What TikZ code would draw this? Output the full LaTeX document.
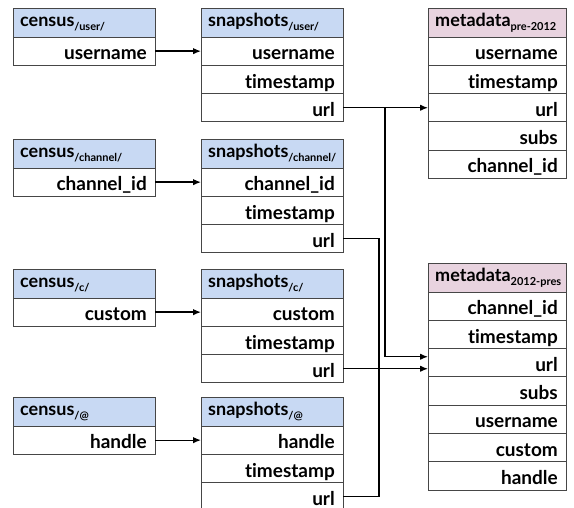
\documentclass[tikz,border=0pt]{standalone}
\usepackage{fontspec}
\setmainfont{Lato}[Ligatures=NoCommon]
\usetikzlibrary{arrows.meta}
\definecolor{hdrblue}{RGB}{200,217,243}
\definecolor{hdrpink}{RGB}{232,211,223}
\definecolor{bordergray}{RGB}{70,70,70}
\tikzset{
  boxbase/.style={draw=bordergray, line width=0.9pt, inner sep=0pt, outer sep=0pt, rectangle},
  hdrbox/.style={boxbase, minimum height=29pt},
  rowbox/.style={boxbase, fill=white, minimum height=28.3pt},
  hdrtxt/.style={inner sep=0pt, font=\fontsize{18}{18}\selectfont\bfseries},
  rowtxt/.style={inner sep=0pt, font=\fontsize{19}{19}\selectfont\bfseries},
  arr/.style={line width=1.3pt, -{Latex[length=8pt,width=6.5pt]}},
  plain/.style={line width=1.3pt},
}
\newcommand{\subtxt}[1]{\raisebox{-3.5pt}{\fontsize{11}{11}\selectfont\bfseries #1}}
\newcommand{\dbtable}[7]{%
  \node[hdrbox, fill=#5, minimum width=#4, anchor=north west] (#1-0) at (#2,-#3) {};
  \node[hdrtxt, anchor=base west] (#1-0-t) at ([xshift=7pt,yshift=10pt]#1-0.south west) {#6};
  \foreach \r [count=\i] in {#7} {
    \pgfmathtruncatemacro{\p}{\i-1}
    \node[rowbox, minimum width=#4, anchor=north] (#1-\i) at (#1-\p.south) {};
    \node[rowtxt, anchor=base east] (#1-\i-t) at ([xshift=-8pt,yshift=5.5pt]#1-\i.south east) {\r};
  }
}
\begin{document}
\begin{tikzpicture}[x=1pt,y=1pt]
\useasboundingbox (0,0) rectangle (574,-508);
% census tables
\dbtable{cu}{13}{8}{142pt}{hdrblue}{census\subtxt{/user/}}{username}
\dbtable{cch}{13}{139}{142pt}{hdrblue}{census\subtxt{/channel/}}{channel\_id}
\dbtable{cc}{13}{269}{142pt}{hdrblue}{census\subtxt{/c/}}{custom}
\dbtable{ca}{13}{397}{142pt}{hdrblue}{census\subtxt{/@}}{handle}
% snapshots tables
\dbtable{su}{201}{8}{142pt}{hdrblue}{snapshots\subtxt{/user/}}{username,timestamp,url}
\dbtable{sch}{201}{139}{142pt}{hdrblue}{snapshots\subtxt{/channel/}}{channel\_id,timestamp,url}
\dbtable{sc}{201}{269}{142pt}{hdrblue}{snapshots\subtxt{/c/}}{custom,timestamp,url}
\dbtable{sa}{201}{397}{142pt}{hdrblue}{snapshots\subtxt{/@}}{handle,timestamp,url}
% metadata tables
\dbtable{mp}{428}{8}{138pt}{hdrpink}{metadata\subtxt{pre-2012}}{username,timestamp,url,subs,channel\_id}
\dbtable{mn}{428}{263}{138pt}{hdrpink}{metadata\subtxt{2012-pres}}{channel\_id,timestamp,url,subs,username,custom,handle}
% census -> snapshots
\draw[arr] (cu-1.east) -- (su-1.west);
\draw[arr] (cch-1.east) -- (sch-1.west);
\draw[arr] (cc-1.east) -- (sc-1.west);
\draw[arr] (ca-1.east) -- (sa-1.west);
% snapshots url -> metadata url
\coordinate (j1) at ([xshift=42pt]su-3.east);
\coordinate (j2) at ([xshift=36pt]sc-3.east);
\draw[arr] (su-3.east) -- (mp-3.west);
\draw[arr] (j1) |- ([yshift=6pt]mn-3.west);
\draw[arr] (sc-3.east) -- (sc-3.east -| mn-3.west);
\draw[plain] (sch-3.east) -| (j2);
\draw[plain] (sa-3.east) -| (j2);
\end{tikzpicture}
\end{document}
